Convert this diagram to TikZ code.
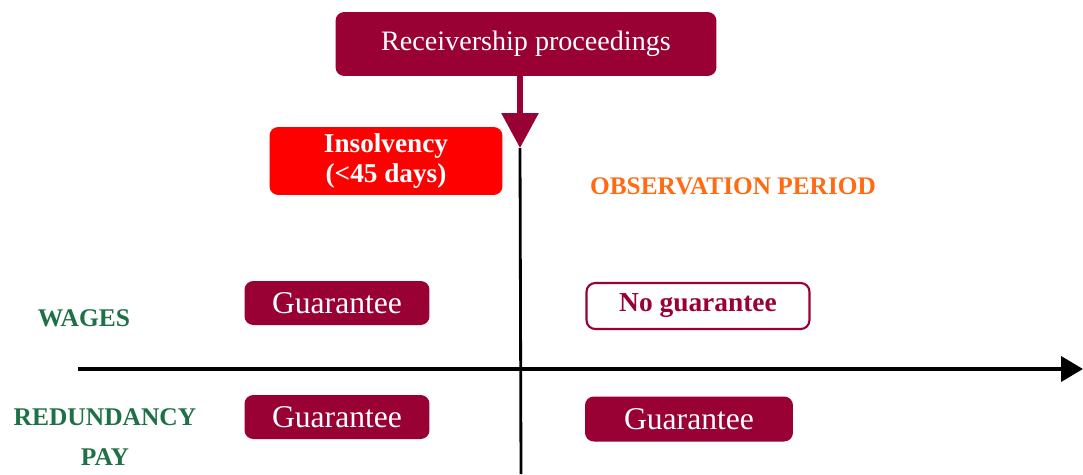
\documentclass[tikz,border=0pt]{standalone}
\usepackage{fontspec}
\setmainfont{Liberation Serif}
\usetikzlibrary{arrows.meta}
\definecolor{wine}{HTML}{990033}
\definecolor{alarm}{HTML}{FF0000}
\definecolor{tangerine}{HTML}{FF6A13}
\definecolor{leaf}{HTML}{1E7146}

\begin{document}
\begin{tikzpicture}[x=0.02cm,y=-0.02cm,
    winebox/.style={rounded corners=5pt,fill=wine,text=white,inner sep=0pt,font=\fontsize{18}{20}\selectfont},
    openbox/.style={rounded corners=5pt,draw=wine,line width=1.2pt,fill=white,text=wine,inner sep=0pt,font=\bfseries\fontsize{15.6}{17}\selectfont},
    axislabel/.style={text=leaf,font=\bfseries\fontsize{14.5}{22.5}\selectfont,align=center}
  ]
    \useasboundingbox (0,0) rectangle (1083,474);

    % top of the time line
    \node[winebox,minimum width=7.62cm,minimum height=1.28cm,font=\fontsize{16}{18}\selectfont] (proc) at (526,44) {Receivership proceedings};
    \node[winebox,fill=alarm,minimum width=4.66cm,minimum height=1.36cm,align=center,font=\bfseries\fontsize{15.5}{17}\selectfont] (insolv) at (386,161) {Insolvency\\(<45 days)};
    \node[text=tangerine,font=\bfseries\fontsize{14.4}{16}\selectfont] (obs) at (733,186) {OBSERVATION PERIOD};

    % axes
    \coordinate (cut) at (520,148);
    \coordinate (bottom) at (521,474);
    \coordinate (start) at (78,369);
    \coordinate (end) at (1083,369);
    \draw[wine,line width=0.12cm,-{Triangle[length=0.7cm,width=0.72cm]}] (proc.south -| cut) -- (cut);
    \draw[line width=1.6pt] (cut) -- (bottom);
    \draw[line width=2.2pt,-{Triangle[length=0.44cm,width=0.5cm]}] (start) -- (end);

    % rows
    \node[axislabel] (wages) at (84,318) {WAGES};
    \node[axislabel] (redund) at (105,437) {REDUNDANCY\\PAY};

    \node[winebox,minimum width=3.7cm,minimum height=0.88cm] (wg1) at (337,303) {Guarantee};
    \node[openbox,minimum width=4.46cm,minimum height=0.92cm] (wg2) at (698,306) {No guarantee};
    \node[winebox,minimum width=3.7cm,minimum height=0.88cm] (rg1) at (337,417) {Guarantee};
    \node[winebox,minimum width=4.16cm,minimum height=0.9cm] (rg2) at (689,419) {Guarantee};
\end{tikzpicture}
\end{document}
